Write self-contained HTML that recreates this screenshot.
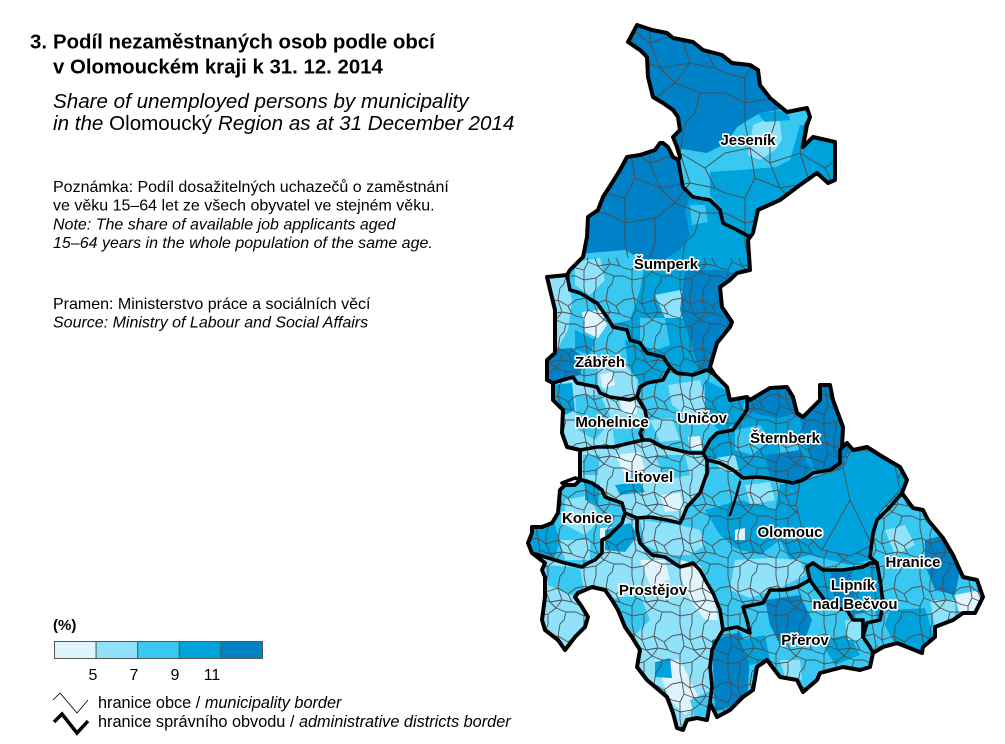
<!DOCTYPE html>
<html><head><meta charset="utf-8"><style>
html,body{margin:0;padding:0;background:#fff;}
svg{display:block;}
text{font-family:"Liberation Sans",Arial,sans-serif;}
.lab{font-weight:bold;font-size:15px;fill:#000;stroke:#fff;stroke-width:3.2px;paint-order:stroke;stroke-linejoin:round;text-anchor:middle;}
.b{fill:none;stroke:#000;stroke-width:3.6;stroke-linejoin:round;stroke-linecap:round;}
</style></head><body>
<svg width="1005" height="744" viewBox="0 0 1005 744" xmlns="http://www.w3.org/2000/svg">
<defs>
<path id="outline" d="M628,42 L637,25 652,30 667,33 673,38 693,42 703,50 722,55 732,63 750,65 758,70 760,85 770,98 787,112 807,108 810,117 807,125 803,147 813,137 835,142 835,180 828,183 817,173 800,185 780,200 758,210 753,233 748,240 750,270 737,273 730,280 720,287 722,307 732,322 730,327 717,343 710,367 715,375 727,387 730,400 747,397 750,400 770,388 787,387 793,397 797,413 803,417 820,400 820,385 830,385 833,400 843,427 842,447 847,443 853,450 867,447 883,457 900,467 907,480 902,493 913,508 923,510 928,520 943,538 953,555 963,577 977,580 983,597 975,613 963,613 953,620 935,627 935,637 923,647 922,653 897,643 883,647 873,653 870,667 860,670 843,667 820,673 817,680 803,692 797,680 780,677 767,660 757,667 753,690 743,697 730,710 717,717 710,703 707,720 697,718 687,720 683,730 677,728 673,713 667,697 647,680 637,667 640,650 632,637 625,627 618,610 612,600 605,590 592,587 578,593 575,597 582,607 588,617 585,627 575,637 565,650 558,640 545,630 542,620 545,597 545,577 542,570 545,563 532,553 528,543 532,533 532,527 542,527 552,523 558,513 560,490 565,485 575,485 580,480 580,467 580,450 567,447 562,433 563,410 553,400 553,383 547,380 547,360 555,353 555,310 547,277 567,275 570,270 583,257 587,237 588,217 598,210 603,197 612,183 620,170 627,157 640,155 655,150 660,143 663,143 668,147 673,157 678,160 680,157 677,147 673,137 680,130 678,117 673,110 663,103 653,97 648,77 647,57 640,50 Z"/>
<clipPath id="clip"><use href="#outline"/></clipPath>
<pattern id="mun" width="48" height="48" patternUnits="userSpaceOnUse">
<path d="M0,12 L10,10 L18,16 L30,12 L40,18 L48,12 M0,36 L8,40 L20,38 L28,32 L38,36 L48,36 M8,0 L10,10 L12,22 L8,30 L8,40 L8,48 M32,0 L30,12 L34,24 L28,32 M38,36 L36,44 L32,48 M18,16 L22,26 L12,22 M22,26 L34,24 M34,24 L44,26 L40,18 M44,26 L48,28 M0,28 L8,30 M20,38 L20,48 M20,0 L18,6 L18,16 M28,32 L22,26" fill="none" stroke="#4d4d4d" stroke-width="0.9"/>
</pattern>
<pattern id="munL" width="48" height="48" patternUnits="userSpaceOnUse" patternTransform="translate(5,3) scale(2.5)">
<path d="M0,12 L10,10 L18,16 L30,12 L40,18 L48,12 M0,36 L8,40 L20,38 L28,32 L38,36 L48,36 M8,0 L10,10 L12,22 L8,30 L8,40 L8,48 M32,0 L30,12 L34,24 L28,32 M38,36 L36,44 L32,48 M18,16 L22,26 L12,22 M22,26 L34,24 M34,24 L44,26 L40,18 M44,26 L48,28 M0,28 L8,30 M20,38 L20,48 M20,0 L18,6 L18,16 M28,32 L22,26" fill="none" stroke="#4d4d4d" stroke-width="0.4"/>
</pattern>
</defs>

<!-- Map fills -->
<g clip-path="url(#clip)">
<use href="#outline" fill="#38c8f2"/>
<path fill="#00a2dc" d="M570,270 583,257 587,237 588,217 598,210 603,197 612,183 620,170 627,157 640,155 655,150 660,143 668,147 673,157 678,160 683,187 693,197 710,200 720,210 723,223 737,230 750,237 748,240 750,270 737,273 730,280 720,287 722,307 732,322 730,327 717,343 710,367 715,375 707,370 693,375 677,373 670,367 663,357 647,353 640,343 630,340 627,330 613,327 607,317 597,303 580,293 570,290 567,275 Z"/>
<path fill="#90e2fb" d="M547,380 553,383 573,377 577,383 597,387 600,393 610,397 630,400 637,397 645,410 647,420 640,433 643,440 630,443 613,447 597,447 580,450 567,447 562,433 563,410 553,400 553,383 Z"/>
<path fill="#00a2dc" d="M747,397 750,400 770,388 787,387 793,397 797,413 803,417 820,400 820,385 830,385 833,400 843,427 842,447 847,443 840,450 840,463 830,470 813,473 803,480 793,483 777,480 767,478 757,477 743,478 733,470 720,463 707,460 703,453 710,440 717,433 733,430 740,420 747,410 Z"/>
<path fill="#90e2fb" d="M580,450 597,447 613,447 630,443 643,440 650,440 663,447 677,450 690,453 703,453 707,460 707,473 700,493 687,507 683,517 680,523 667,520 650,517 637,518 625,513 622,503 605,497 602,490 592,483 575,478 567,485 577,487 580,480 580,467 Z"/>
<path fill="#90e2fb" d="M637,518 637,530 640,543 652,555 665,557 680,567 693,563 700,570 707,583 713,593 720,610 723,630 717,640 712,650 710,667 712,687 710,703 707,720 697,718 687,720 683,730 677,728 673,713 667,697 647,680 637,667 640,650 632,637 625,627 618,610 612,600 605,590 592,587 578,593 575,597 582,607 588,617 585,627 575,637 565,650 558,640 545,630 542,620 545,597 545,577 542,570 545,563 532,553 545,557 555,560 565,563 582,567 588,563 595,560 602,553 602,540 608,537 615,530 622,523 625,513 Z"/>
<path fill="#00a2dc" d="M807,567 813,563 823,570 843,570 863,567 877,563 880,580 883,603 880,620 867,623 863,637 863,620 853,620 847,610 830,607 817,590 810,580 Z"/>

<!-- Jeseník -->
<path fill="#0082c8" d="M600,15 L850,15 L850,105 L790,108 L760,113 L737,127 L727,143 L707,153 L680,150 L660,150 L600,150 Z"/>
<path fill="#38c8f2" d="M676,148 L707,153 L727,143 L737,127 L760,113 L790,108 L803,112 L803,147 L790,160 L777,165 L740,170 L712,172 L700,190 L683,187 Z"/>
<path fill="#90e2fb" d="M753,125 L770,118 L780,122 L782,140 L775,150 L760,160 L748,155 Z"/>
<path fill="#00a2dc" d="M800,125 L845,125 L845,195 L790,200 L777,200 L770,170 L790,160 Z"/>
<path fill="#00a2dc" d="M710,172 L740,170 L777,167 L780,205 L758,212 L753,240 L737,232 L723,223 L718,205 L710,195 Z"/>
<path fill="#00a2dc" d="M757,113 L787,110 L790,120 L765,122 Z"/>
<!-- Šumperk -->
<path fill="#0082c8" d="M585,150 L680,150 L683,187 L690,197 L685,210 L690,235 L680,250 L660,262 L640,258 L625,250 L600,255 L585,260 Z"/>
<path fill="#38c8f2" d="M570,255 L600,252 L625,250 L645,262 L640,290 L630,320 L610,325 L590,300 L570,290 Z"/>
<path fill="#90e2fb" d="M575,262 L600,258 L605,280 L590,295 L575,285 Z"/>
<path fill="#90e2fb" d="M655,295 L680,290 L697,300 L693,318 L665,318 Z"/>
<path fill="#0082c8" d="M685,270 L720,270 L737,273 L720,287 L722,307 L732,322 L717,343 L710,367 L700,372 L690,340 L680,310 L683,285 Z"/>
<path fill="#38c8f2" d="M640,318 L665,318 L670,345 L650,352 L640,340 Z"/>
<path fill="#38c8f2" d="M690,205 L705,205 L708,222 L692,225 Z"/>
<!-- Zábřeh -->
<path fill="#90e2fb" d="M545,275 L567,275 L572,300 L568,330 L555,353 L545,353 Z"/>
<path fill="#e0f4fe" d="M582,312 L600,310 L607,325 L598,338 L585,332 Z"/>
<path fill="#0082c8" d="M545,350 L572,348 L585,358 L580,375 L560,382 L545,382 Z"/>
<path fill="#00a2dc" d="M625,340 L650,348 L668,365 L660,380 L640,385 L628,365 Z"/>
<path fill="#90e2fb" d="M598,365 L625,365 L638,380 L635,397 L610,396 L598,385 Z"/>
<path fill="#e0f4fe" d="M600,375 L612,372 L615,385 L603,388 Z"/>
<path fill="#00a2dc" d="M575,330 L595,340 L590,355 L575,350 Z"/>
<!-- Mohelnice -->
<path fill="#00a2dc" d="M550,385 L572,383 L575,410 L565,415 L553,405 Z"/>
<path fill="#38c8f2" d="M575,395 L600,395 L612,420 L595,440 L578,430 Z"/>
<path fill="#e0f4fe" d="M620,400 L637,402 L637,414 L622,413 Z"/>
<path fill="#38c8f2" d="M612,425 L640,425 L642,440 L615,445 Z"/>
<!-- Uničov -->
<path fill="#90e2fb" d="M668,385 L700,380 L708,410 L690,418 L672,405 Z"/>
<path fill="#00a2dc" d="M705,380 L730,392 L745,400 L740,422 L720,432 L705,415 Z"/>
<path fill="#e0f4fe" d="M688,437 L700,436 L702,450 L690,450 Z"/>
<path fill="#90e2fb" d="M650,420 L672,418 L680,440 L660,442 Z"/>
<!-- Šternberk -->
<path fill="#0082c8" d="M745,385 L795,385 L797,413 L780,418 L760,415 L748,410 Z"/>
<path fill="#0082c8" d="M800,380 L850,380 L850,470 L815,472 L805,440 L800,420 Z"/>
<path fill="#38c8f2" d="M735,430 L760,425 L770,440 L752,455 L735,450 Z"/>
<path fill="#38c8f2" d="M780,440 L800,445 L795,460 L778,458 Z"/>
<path fill="#0082c8" d="M765,455 L800,450 L812,470 L795,483 L770,478 Z"/>
<path fill="#90e2fb" d="M715,458 L735,455 L740,475 L720,470 Z"/>
<!-- Litovel -->
<path fill="#e0f4fe" d="M615,455 L640,452 L645,470 L625,475 Z"/>
<path fill="#38c8f2" d="M655,455 L685,455 L690,475 L665,480 Z"/>
<path fill="#e0f4fe" d="M660,495 L680,493 L683,510 L665,512 Z"/>
<path fill="#00a2dc" d="M615,485 L640,482 L645,492 L620,495 Z"/>
<path fill="#38c8f2" d="M583,455 L600,455 L598,475 L583,475 Z"/>
<!-- Konice -->
<path fill="#00a2dc" d="M525,528 L553,520 L560,540 L555,557 L528,553 Z"/>
<path fill="#90e2fb" d="M565,500 L590,495 L600,520 L585,535 L565,525 Z"/>
<path fill="#e0f4fe" d="M600,528 L612,527 L613,540 L600,542 Z"/>
<path fill="#00a2dc" d="M585,478 L600,485 L598,505 L585,500 Z"/>
<path fill="#90e2fb" d="M560,540 L590,540 L590,560 L565,560 Z"/>
<!-- Prostějov -->
<path fill="#e0f4fe" d="M680,560 L700,565 L712,590 L718,620 L705,620 L690,600 L682,580 Z"/>
<path fill="#00a2dc" d="M605,530 L630,523 L638,535 L625,552 L605,550 Z"/>
<path fill="#38c8f2" d="M545,565 L580,568 L585,595 L570,595 L548,585 Z"/>
<path fill="#e0f4fe" d="M655,660 L680,660 L690,680 L700,700 L685,715 L670,700 Z"/>
<path fill="#38c8f2" d="M600,600 L640,595 L650,620 L630,640 Z"/>
<path fill="#e0f4fe" d="M640,560 L665,560 L670,580 L650,585 Z"/>
<path fill="#38c8f2" d="M690,700 L712,690 L712,715 L695,718 Z"/>
<path fill="#00a2dc" d="M655,662 L670,658 L672,678 L655,677 Z"/>
<path fill="#e0f4fe" d="M580,600 L600,598 L605,615 L585,620 Z"/>
<!-- Olomouc -->
<path fill="#00a2dc" d="M780,485 L840,470 L850,447 L870,448 L900,465 L910,490 L880,510 L873,540 L870,560 L850,565 L830,560 L810,555 L790,560 L780,540 L775,510 Z"/>
<path fill="#00a2dc" d="M705,510 L740,500 L775,510 L780,540 L760,555 L735,548 L720,535 Z"/>
<path fill="#90e2fb" d="M640,520 L680,525 L700,530 L705,545 L690,555 L665,555 L645,545 Z"/>
<path fill="#90e2fb" d="M735,560 L770,558 L800,560 L805,575 L780,588 L750,598 L730,590 Z"/>
<path fill="#90e2fb" d="M745,485 L770,482 L775,500 L750,505 Z"/>
<path fill="#e0f4fe" d="M735,530 L745,528 L745,540 L735,540 Z"/>
<!-- Hranice -->
<path fill="#0082c8" d="M925,540 L945,535 L960,570 L955,595 L935,590 L925,565 Z"/>
<path fill="#e0f4fe" d="M955,595 L990,588 L990,615 L960,618 Z"/>
<path fill="#00a2dc" d="M890,610 L925,608 L935,640 L922,655 L895,645 L885,625 Z"/>
<path fill="#90e2fb" d="M885,530 L905,525 L915,545 L895,555 Z"/>
<path fill="#90e2fb" d="M930,600 L955,600 L955,620 L935,628 Z"/>
<!-- Lipník -->
<path fill="#0082c8" d="M830,570 L850,570 L855,600 L835,605 Z"/>
<path fill="#38c8f2" d="M855,615 L875,610 L878,625 L860,630 Z"/>
<!-- Přerov -->
<path fill="#0082c8" d="M765,600 L800,595 L812,620 L805,640 L780,645 L770,625 Z"/>
<path fill="#0082c8" d="M712,640 L740,632 L750,650 L748,690 L735,705 L715,712 Z"/>
<path fill="#00a2dc" d="M740,640 L765,635 L770,660 L750,665 Z"/>
<path fill="#00a2dc" d="M820,640 L850,635 L860,655 L835,665 Z"/>
<path fill="#90e2fb" d="M780,660 L800,660 L802,680 L785,678 Z"/>
<path fill="#90e2fb" d="M845,620 L862,622 L865,640 L848,640 Z"/>

<!-- municipality borders -->
<rect x="520" y="0" width="485" height="258" fill="url(#munL)"/>
<rect x="520" y="258" width="485" height="486" fill="url(#mun)"/>
<!-- large uniform municipality (Olomouc east) -->
<path fill="#00a2dc" stroke="#4d4d4d" stroke-width="0.9" d="M800,482 L843,468 L850,452 L868,450 L895,466 L900,490 L880,512 L872,545 L850,556 L822,550 L803,532 L796,505 Z"/>
<path fill="none" stroke="#4d4d4d" stroke-width="0.9" d="M843,468 L850,500 L872,545 M850,500 L822,550"/>
</g>

<!-- district borders -->
<path class="b" d="M678,160 L683,187 693,197 710,200 720,210 723,223 737,230 750,237"/>
<path class="b" d="M567,275 L570,290 580,293 597,303 607,317 613,327 627,330 630,340 640,343 647,353 663,357 670,367"/>
<path class="b" d="M670,367 L677,373 693,375 707,370 715,375"/>
<path class="b" d="M547,380 L553,383 573,377 577,383 597,387 600,393 610,397 630,400 637,397 640,387 647,383 663,380 670,367"/>
<path class="b" d="M637,397 L645,410 647,420 640,433 643,440"/>
<path class="b" d="M580,450 L597,447 613,447 630,443 643,440 650,440 663,447 677,450 690,453 703,453"/>
<path class="b" d="M747,397 L747,410 740,420 733,430 717,433 710,440 703,453"/>
<path class="b" d="M703,453 L707,460 707,473 700,493 687,507 683,517 680,523 667,520 650,517 637,518"/>
<path class="b" d="M707,460 L720,463 733,470 743,478 757,477 767,478 777,480 793,483 803,480 813,473 830,470 840,463 840,450 847,443"/>
<path class="b" style="stroke-width:2.5" d="M740,482 L735,500 730,515"/>
<path class="b" d="M562,483 L575,478 592,483 602,490 605,497 622,503 625,513 637,518"/>
<path class="b" d="M625,513 L622,523 615,530 608,537 602,540 602,553 595,560 588,563 582,567 565,563 555,560 545,557 532,553"/>
<path class="b" d="M637,518 L637,530 640,543 652,555 665,557 680,567 693,563 700,570 707,583 713,593 720,610 723,630"/>
<path class="b" d="M723,630 L717,640 712,650 710,667 712,687 710,703"/>
<path class="b" d="M723,630 L737,627 750,633 747,620 743,607 763,603 770,590 783,590 797,587 810,580"/>
<path class="b" d="M810,580 L807,567 813,563 823,570 843,570 863,567 870,563 877,563"/>
<path class="b" d="M810,580 L817,590 830,607 847,610 853,620 863,620 863,637 870,647 873,653"/>
<path class="b" d="M902,493 L890,507 877,520 873,533 870,557 877,563 880,580 883,603 880,620 867,623 863,637"/>
<use href="#outline" fill="none" stroke="#000" stroke-width="4" stroke-linejoin="round"/>

<!-- map labels -->
<text class="lab" x="748" y="145">Jeseník</text>
<text class="lab" x="666" y="269">Šumperk</text>
<text class="lab" x="600" y="367">Zábřeh</text>
<text class="lab" x="612" y="427">Mohelnice</text>
<text class="lab" x="702" y="423">Uničov</text>
<text class="lab" x="785" y="443">Šternberk</text>
<text class="lab" x="649" y="482">Litovel</text>
<text class="lab" x="587" y="523">Konice</text>
<text class="lab" x="790" y="537">Olomouc</text>
<text class="lab" x="913" y="567">Hranice</text>
<text class="lab" x="853" y="590">Lipník</text>
<text class="lab" x="855" y="609">nad Bečvou</text>
<text class="lab" x="653" y="595">Prostějov</text>
<text class="lab" x="805" y="645">Přerov</text>

<!-- titles -->
<text x="30" y="48.5" font-size="20.4" font-weight="bold">3.</text>
<text x="53" y="48.5" font-size="20.4" font-weight="bold">Podíl nezaměstnaných osob podle obcí</text>
<text x="53" y="73.5" font-size="20.4" font-weight="bold">v Olomouckém kraji k 31. 12. 2014</text>
<text x="53" y="108" font-size="20.6" font-style="italic">Share of unemployed persons by municipality</text>
<text x="53" y="130" font-size="20.6"><tspan font-style="italic">in the </tspan>Olomoucký<tspan font-style="italic"> Region as at 31 December 2014</tspan></text>

<text x="53" y="192" font-size="16">Poznámka: Podíl dosažitelných uchazečů o zaměstnání</text>
<text x="53" y="210.5" font-size="16">ve věku 15–64 let ze všech obyvatel ve stejném věku.</text>
<text x="53" y="229.5" font-size="16" font-style="italic">Note: The share of available job applicants aged</text>
<text x="53" y="248" font-size="16" font-style="italic">15–64 years in the whole population of the same age.</text>

<text x="53" y="309" font-size="16">Pramen: Ministerstvo práce a sociálních věcí</text>
<text x="53" y="327.5" font-size="16" font-style="italic">Source: Ministry of Labour and Social Affairs</text>

<!-- legend -->
<text x="53" y="630" font-size="15" font-weight="bold">(%)</text>
<g stroke="#555" stroke-width="1">
<rect x="54.5" y="641.5" width="41.6" height="17" fill="#e0f4fe"/>
<rect x="96.1" y="641.5" width="41.6" height="17" fill="#90e2fb"/>
<rect x="137.7" y="641.5" width="41.6" height="17" fill="#38c8f2"/>
<rect x="179.3" y="641.5" width="41.6" height="17" fill="#00a2dc"/>
<rect x="220.9" y="641.5" width="41.6" height="17" fill="#0082c8"/>
</g>
<g font-size="16" text-anchor="middle">
<text x="93" y="680">5</text>
<text x="134" y="680">7</text>
<text x="175" y="680">9</text>
<text x="212" y="680">11</text>
</g>
<polyline points="53,700 60,693 77,713 88,700" fill="none" stroke="#000" stroke-width="0.8"/>
<polyline points="54,722 62,714 77,733 88,721" fill="none" stroke="#000" stroke-width="3.5"/>
<text x="98" y="708" font-size="16.3">hranice obce / <tspan font-style="italic">municipality border</tspan></text>
<text x="98" y="727" font-size="16.3">hranice správního obvodu / <tspan font-style="italic">administrative districts border</tspan></text>
</svg>
</body></html>
